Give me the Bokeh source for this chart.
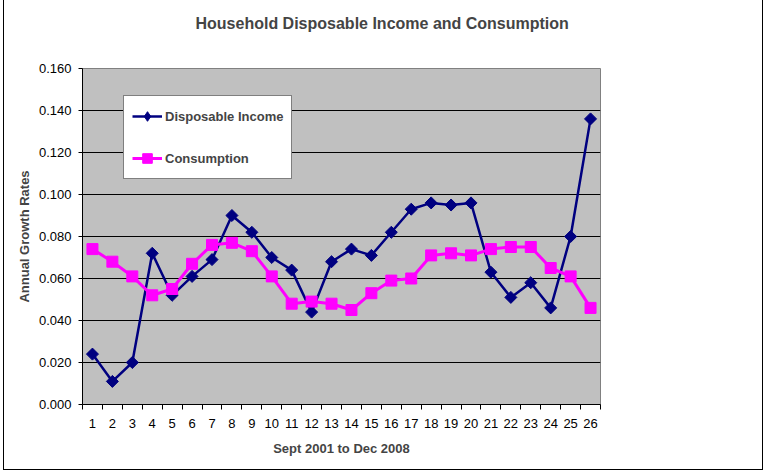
from bokeh.plotting import figure
from bokeh.models import (Range1d, FixedTicker, NumeralTickFormatter, Legend, LegendItem,
                          ColumnDataSource, Title)
from bokeh.embed import file_html
from bokeh.resources import INLINE
import math

periods = list(range(1, 27))
tick_labels = [str(i) for i in periods]
disposable_income = [0.024, 0.011, 0.020, 0.072, 0.052, 0.061, 0.069, 0.090, 0.082, 0.070,
                     0.064, 0.044, 0.068, 0.074, 0.071, 0.082, 0.093, 0.096, 0.095, 0.096,
                     0.063, 0.051, 0.058, 0.046, 0.080, 0.136]
consumption = [0.074, 0.068, 0.061, 0.052, 0.055, 0.067, 0.076, 0.077, 0.073, 0.061,
               0.048, 0.049, 0.048, 0.045, 0.053, 0.059, 0.060, 0.071, 0.072, 0.071,
               0.074, 0.075, 0.075, 0.065, 0.061, 0.046]
title_text = "Household Disposable Income and Consumption"

FONT = "Liberation Sans"

p = figure(width=764, height=473, output_backend="svg", toolbar_location=None,
           x_range=Range1d(0.5, 26.5), y_range=Range1d(0, 0.16),
           min_border_left=82, min_border_right=164, min_border_top=68, min_border_bottom=69)
# chart-area border (left, right, bottom; the top edge is cut off in the original)
p.styles = {
    "background-color": "white",
    "background-image": ("linear-gradient(black, black), linear-gradient(black, black), "
                         "linear-gradient(black, black)"),
    "background-size": "1px 470px, 1px 470px, 760px 1px",
    "background-position": "3px 0px, 762px 0px, 3px 469px",
    "background-repeat": "no-repeat",
}

p.background_fill_color = "#C0C0C0"
p.border_fill_color = None
p.outline_line_color = "#808080"
p.outline_line_width = 1

# spacer between the frame and the title (nearest to the frame)
spacer = Title(text=" ", text_font=FONT, text_font_size="10px", standoff=24)
p.add_layout(spacer, "above")

# title (outermost)
p.title.text = title_text
p.title.text_font = FONT
p.title.text_font_size = "16px"
p.title.text_font_style = "bold"
p.title.align = "left"
p.title.offset = 113
p.title.standoff = 0

# grid
p.xgrid.visible = False
p.ygrid.ticker = FixedTicker(ticks=[0.02 * i for i in range(9)])
p.ygrid.grid_line_color = "black"
p.ygrid.grid_line_width = 1

# x axis
xa = p.xaxis[0]
xa.ticker = FixedTicker(ticks=periods, minor_ticks=[i + 0.5 for i in range(0, 27)])
xa.major_label_overrides = {i: s for i, s in zip(periods, tick_labels)}
xa.major_tick_out = 0
xa.major_tick_in = 0
xa.minor_tick_out = 5
xa.minor_tick_in = 0
xa.minor_tick_line_color = "black"
xa.axis_line_color = "black"
xa.major_label_text_font = FONT
xa.major_label_text_font_size = "13px"
xa.major_label_text_color = "black"
xa.major_label_standoff = 9
xa.axis_label = "Sept 2001 to Dec 2008"
xa.axis_label_text_font = FONT
xa.axis_label_text_font_size = "13px"
xa.axis_label_text_font_style = "bold"
xa.axis_label_standoff = 10

# y axis
ya = p.yaxis[0]
ya.ticker = FixedTicker(ticks=[0.02 * i for i in range(9)])
ya.formatter = NumeralTickFormatter(format="0.000")
ya.major_tick_out = 4
ya.major_tick_in = 0
ya.minor_tick_out = 0
ya.minor_tick_in = 0
ya.axis_line_color = "black"
ya.major_tick_line_color = "black"
ya.major_label_text_font = FONT
ya.major_label_text_font_size = "13px"
ya.major_label_text_color = "black"
ya.major_label_standoff = 7
ya.axis_label = "Annual Growth Rates"
ya.axis_label_text_font = FONT
ya.axis_label_text_font_size = "13px"
ya.axis_label_text_font_style = "bold"
ya.axis_label_standoff = 4

src = ColumnDataSource(dict(x=periods, inc=disposable_income, con=consumption))

l1 = p.line("x", "inc", source=src, line_color="#000080", line_width=2.5)
m1 = p.scatter("x", "inc", source=src, marker="square", angle=math.pi / 4, size=8.5,
               fill_color="#000080", line_color="#000080")
l2 = p.line("x", "con", source=src, line_color="#FF00FF", line_width=3)
m2 = p.scatter("x", "con", source=src, marker="square", size=11,
               fill_color="#FF00FF", line_color="#FF00FF")

# legend-only marker (drawn outside the visible range)
leg_src = ColumnDataSource(dict(x=[-10], y=[-10]))
d1 = p.scatter("x", "y", source=leg_src, marker="diamond", size=10,
               fill_color="#000080", line_color="#000080")

legend = Legend(items=[LegendItem(label="Disposable Income", renderers=[l1, d1]),
                       LegendItem(label="Consumption", renderers=[l2, m2])],
                location=(41, 225), orientation="vertical")
legend.margin = 0
legend.padding = 8
legend.spacing = 18
legend.label_height = 24
legend.glyph_height = 24
legend.glyph_width = 30
legend.label_standoff = 3
legend.label_text_font = FONT
legend.label_text_font_size = "13px"
legend.label_text_font_style = "bold"
legend.border_line_color = "black"
legend.border_line_width = 1
legend.background_fill_color = "white"
legend.background_fill_alpha = 1
p.add_layout(legend)

open("out.html", "w").write(file_html(p, INLINE))
